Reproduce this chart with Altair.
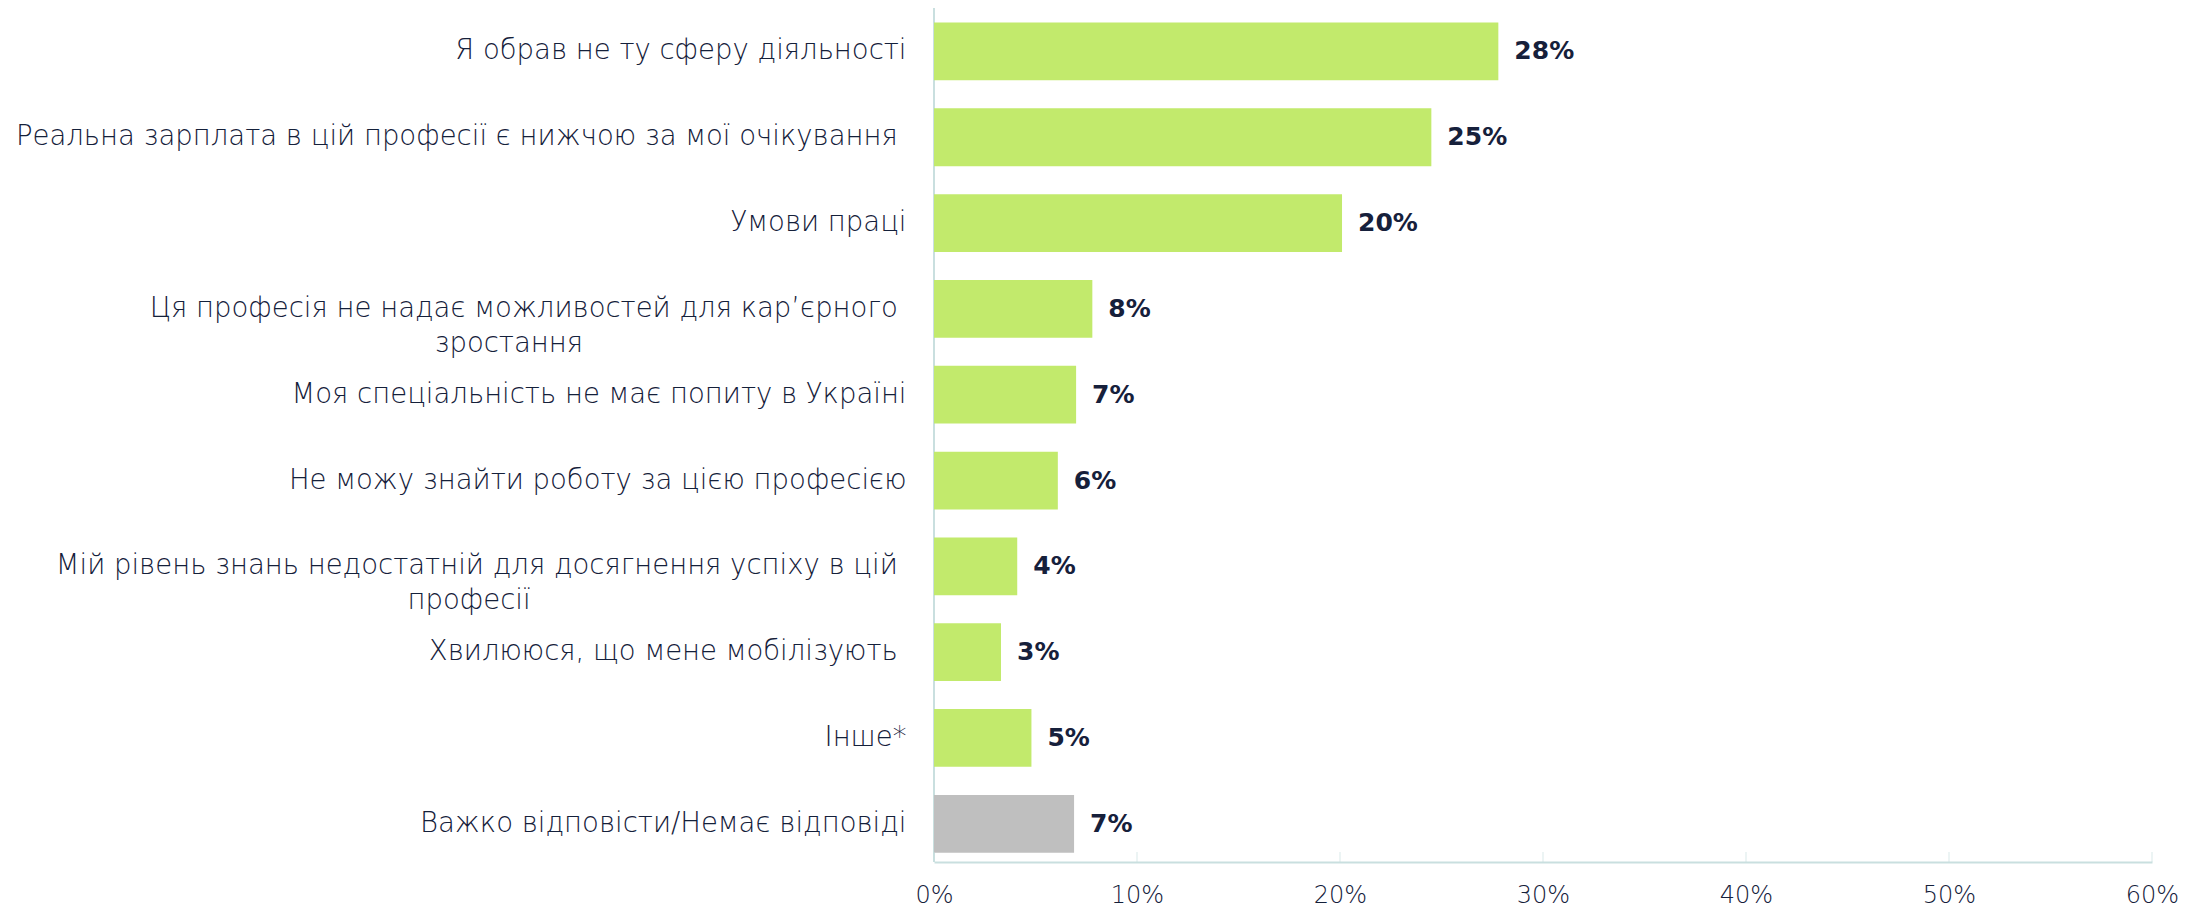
import altair as alt
import pandas as pd

NB = "\u00a0"
END = "\u200b"

categories = [
    "Я обрав не ту сферу діяльності",
    "Реальна зарплата в цій професії є нижчою за мої очікування" + NB + END,
    "Умови праці",
    "Ця професія не надає можливостей для кар’єрного" + NB + END + "|" + "зростання" + NB * 37 + END,
    "Моя спеціальність не має попиту в Україні",
    "Не можу знайти роботу за цією професією",
    "Мій рівень знань недостатній для досягнення успіху в цій" + NB + END + "|" + "професії" + NB * 43 + END,
    "Хвилююся, що мене мобілізують" + NB + END,
    "Інше*",
    "Важко відповісти/Немає відповіді",
]
values = [27.8, 24.5, 20.1, 7.8, 7.0, 6.1, 4.1, 3.3, 4.8, 6.9]
value_labels = ["28%", "25%", "20%", "8%", "7%", "6%", "4%", "3%", "5%", "7%"]
groups = ["answer"] * 9 + ["no_answer"]
x_ticks = [0, 10, 20, 30, 40, 50, 60]

df = pd.DataFrame({"cat": categories, "value": values, "label": value_labels, "group": groups})
ticks_df = pd.DataFrame({"t": x_ticks})
zero_df = pd.DataFrame({"z": [0]})

W, H = 1218, 854
AXIS_COLOR = "#c9dfdf"
TEXT_COLOR = "#14203a"
FONT = "DejaVu Sans"

x_scale = alt.Scale(domain=[0, 60], nice=False)
y_enc = alt.Y(
    "cat:N",
    sort=categories,
    scale=alt.Scale(paddingInner=0.327, paddingOuter=0.139, align=0.61),
    axis=alt.Axis(
        title=None,
        ticks=False,
        domain=False,
        labelExpr="split(datum.label, '|')",
        labelFont=FONT,
        labelFontSize=27.5,
        labelFontWeight=300,
        labelColor=TEXT_COLOR,
        labelPadding=28,
        labelLimit=1000,
        labelLineHeight=35,
        labelAlign="right",
        labelBaseline="middle",
    ),
)

bars = alt.Chart(df).mark_bar().encode(
    x=alt.X(
        "value:Q",
        scale=x_scale,
        axis=alt.Axis(
            title=None,
            values=x_ticks,
            grid=False,
            ticks=False,
            domainColor=AXIS_COLOR,
            domainWidth=2,
            labelExpr="datum.value + '%'",
            labelFont=FONT,
            labelFontSize=24,
            labelFontWeight=300,
            labelColor=TEXT_COLOR,
            labelPadding=33,
            labelBaseline="middle",
            labelFlush=False,
        ),
    ),
    y=y_enc,
    color=alt.Color(
        "group:N",
        scale=alt.Scale(domain=["answer", "no_answer"], range=["#c2ea6c", "#bfbfbf"]),
        legend=None,
    ),
)

texts = alt.Chart(df).mark_text(
    align="left", baseline="middle", dx=16, font=FONT, fontSize=25, fontWeight="bold", color="#16203b"
).encode(
    x=alt.X("value:Q", scale=x_scale),
    y=alt.Y("cat:N", sort=categories),
    text="label:N",
)

tick_marks = alt.Chart(ticks_df).mark_tick(
    orient="vertical", color=AXIS_COLOR, thickness=1, size=10
).encode(
    x=alt.X("t:Q", scale=x_scale),
    y=alt.value(H - 5),
)

vrule = alt.Chart(zero_df).mark_rule(color=AXIS_COLOR, strokeWidth=2).encode(
    x=alt.X("z:Q", scale=x_scale),
    y=alt.value(0),
    y2=alt.value(H),
)

chart = (
    alt.layer(vrule, bars, texts, tick_marks)
    .properties(
        width=W,
        height=H,
        autosize=alt.AutoSizeParams(type="none"),
        padding={"left": 926, "top": 0, "right": 50, "bottom": 47},
    )
    .configure_view(stroke=None)
)

chart.save("out.html", embed_options={"renderer": "svg", "actions": False})
